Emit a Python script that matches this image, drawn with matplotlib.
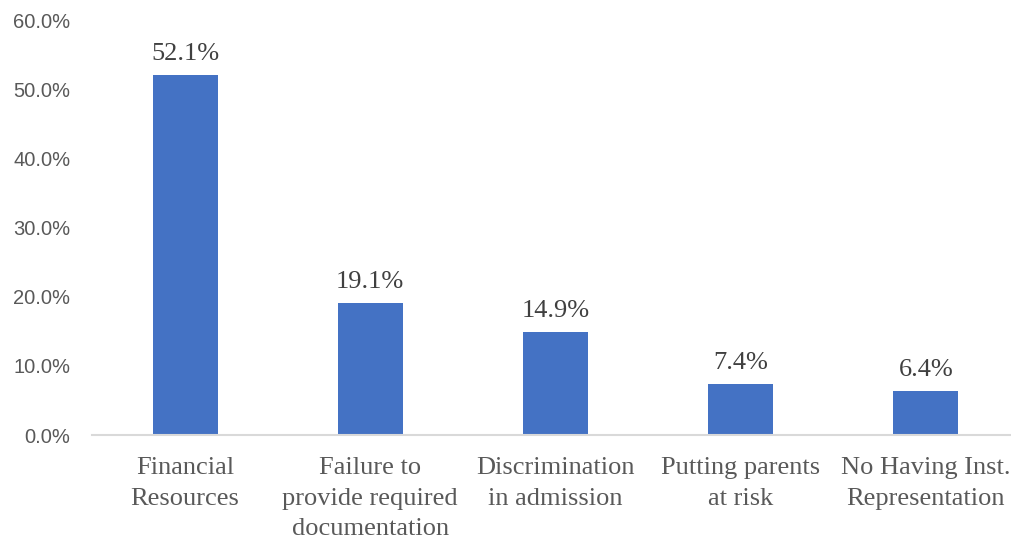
import numpy as np
import matplotlib.pyplot as plt

categories = ["Financial\nResources",
              "Failure to\nprovide required\ndocumentation",
              "Discrimination\nin admission",
              "Putting parents\nat risk",
              "No Having Inst.\nRepresentation"]
shares = [52.1, 19.1, 14.9, 7.4, 6.4]
yticks = [0, 10, 20, 30, 40, 50, 60]

fig = plt.figure(figsize=(10.12, 5.4), dpi=100)
ax = fig.add_axes([0.0914, 0.1944, 0.915, 0.7685])

x = np.arange(len(categories))
bars = ax.bar(x, shares, width=0.35, color="#4472C4", zorder=2)

# value labels above bars
for xi, v in zip(x, shares):
    ax.annotate(f"{v:.1f}%", (xi, v), xytext=(0, 7), textcoords="offset points",
                ha="center", va="bottom", family="Liberation Serif",
                fontsize=19, color="#404040")

ax.set_xlim(-0.5, len(categories) - 0.5)
ax.set_ylim(0, 60)
ax.set_yticks(yticks)
ax.set_yticklabels([f"{t:.1f}%" for t in yticks], family="Liberation Sans",
                   fontsize=14.5, color="#595959")
ax.set_xticks(x)
ax.set_xticklabels(categories, family="Liberation Serif", fontsize=19,
                   color="#595959", linespacing=1.5, va="top")
ax.tick_params(axis="both", length=0)
ax.tick_params(axis="x", pad=16)
ax.tick_params(axis="y", pad=16)

for s in ["top", "right", "left"]:
    ax.spines[s].set_visible(False)
ax.spines["bottom"].set_color("#D9D9D9")
ax.spines["bottom"].set_linewidth(1.5)

fig.savefig("out.png", dpi=100)
